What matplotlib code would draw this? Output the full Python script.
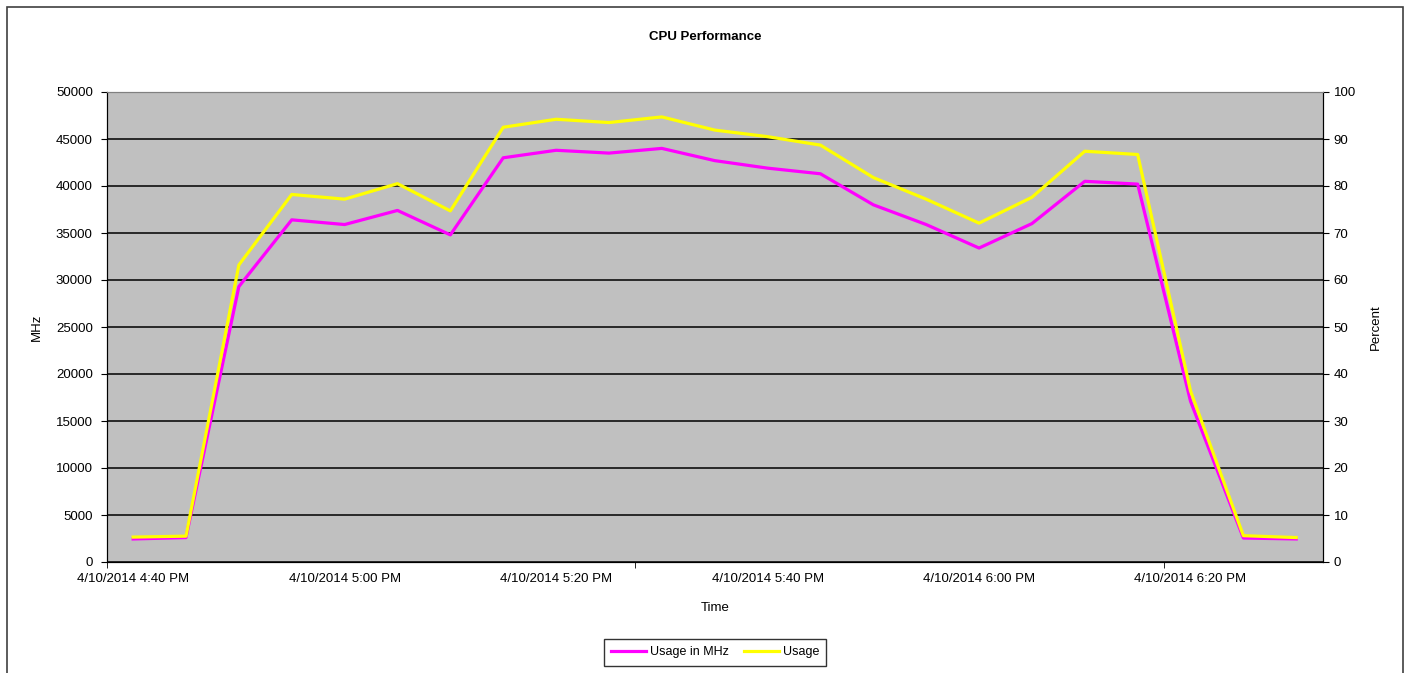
import matplotlib
matplotlib.use("Agg")
import matplotlib.pyplot as plt
from matplotlib.patches import Rectangle
from matplotlib.lines import Line2D

plt.rcParams['font.family'] = ['Liberation Sans', 'DejaVu Sans']

# Sample times (5 minute intervals), labelled every 4th sample
times = ['4:40 PM', '4:45 PM', '4:50 PM', '4:55 PM', '5:00 PM', '5:05 PM',
         '5:10 PM', '5:15 PM', '5:20 PM', '5:25 PM', '5:30 PM', '5:35 PM',
         '5:40 PM', '5:45 PM', '5:50 PM', '5:55 PM', '6:00 PM', '6:05 PM',
         '6:10 PM', '6:15 PM', '6:20 PM', '6:25 PM', '6:30 PM']
date = '4/10/2014'

usage_mhz = [2450, 2600, 29300, 36400, 35900, 37400, 34800, 43000, 43800,
             43500, 44000, 42700, 41900, 41300, 38000, 35900, 33400, 36000,
             40500, 40200, 17100, 2550, 2450]
usage_pct = [5.3, 5.5, 63.2, 78.2, 77.2, 80.5, 74.7, 92.5, 94.2, 93.5, 94.7,
             91.9, 90.5, 88.7, 81.8, 77.2, 72.1, 77.6, 87.4, 86.7, 36.4, 5.6,
             5.2]

mhz_ticks = list(range(0, 50001, 5000))
pct_ticks = list(range(0, 101, 10))

W, H = 1408, 673
fig = plt.figure(figsize=(W / 100, H / 100), dpi=100, facecolor='white')

# outer chart frame
fig.patches.append(Rectangle((7 / W, -0.02), (1402.7 - 7) / W, (H - 7) / H + 0.02,
                             transform=fig.transFigure, fill=False,
                             edgecolor='#404040', linewidth=1.2))

ax = fig.add_axes([106.7 / W, (H - 562) / H, (1322.7 - 106.7) / W, (562 - 92) / H])
ax.set_facecolor('#C0C0C0')
x = list(range(len(times)))

ax.plot(x, usage_mhz, color='#FF00FF', linewidth=2.3, zorder=3)
ax.set_xlim(-0.5, len(times) - 0.5)
ax.set_ylim(0, 50000)
ax.set_yticks(mhz_ticks)
ax.set_yticklabels([str(v) for v in mhz_ticks], fontsize=9.5)
ax.yaxis.grid(True, color='black', linewidth=1.1)
ax.set_axisbelow(True)

label_idx = list(range(0, len(times), 4))
ax.set_xticks(label_idx)
ax.set_xticklabels([f'{date} {times[i]}' for i in label_idx], fontsize=9.5)
ax.tick_params(axis='x', which='major', length=0, pad=8)
ax.set_xticks([-0.5, 9.5, 19.5], minor=True)
ax.tick_params(axis='x', which='minor', length=4, direction='out', color='black')
ax.tick_params(axis='y', length=4, direction='out', pad=6, color='black')

ax2 = ax.twinx()
ax2.plot(x, usage_pct, color='#FFFF00', linewidth=2.3, zorder=4)
ax2.set_ylim(0, 100)
ax2.set_yticks(pct_ticks)
ax2.set_yticklabels([str(v) for v in pct_ticks], fontsize=9.5)
ax2.tick_params(axis='y', length=4, direction='out', pad=4, color='black')

for a in (ax, ax2):
    a.spines['left'].set_color('black')
    a.spines['bottom'].set_color('black')
    a.spines['right'].set_color('black')
    a.spines['top'].set_color('#808080')

ax.set_xlabel('Time', fontsize=9.5, labelpad=12)
ax.set_ylabel('MHz', fontsize=9.5, labelpad=9)
ax2.set_ylabel('Percent', fontsize=9.5, labelpad=10)

fig.text(705 / W, 1 - 37 / H, 'CPU Performance', ha='center', va='center',
         fontsize=9.5, fontweight='bold')

handles = [Line2D([], [], color='#FF00FF', linewidth=2.3),
           Line2D([], [], color='#FFFF00', linewidth=2.3)]
leg = fig.legend(handles, ['Usage in MHz', 'Usage'], loc='center',
                 bbox_to_anchor=(715 / W, 1 - 652 / H), ncol=2, fontsize=9,
                 frameon=True, fancybox=False, edgecolor='black',
                 handlelength=2.8, handletextpad=0.3, columnspacing=1.2,
                 borderpad=0.6)
leg.get_frame().set_linewidth(1.0)

fig.savefig('out.png', dpi=100, facecolor='white')
